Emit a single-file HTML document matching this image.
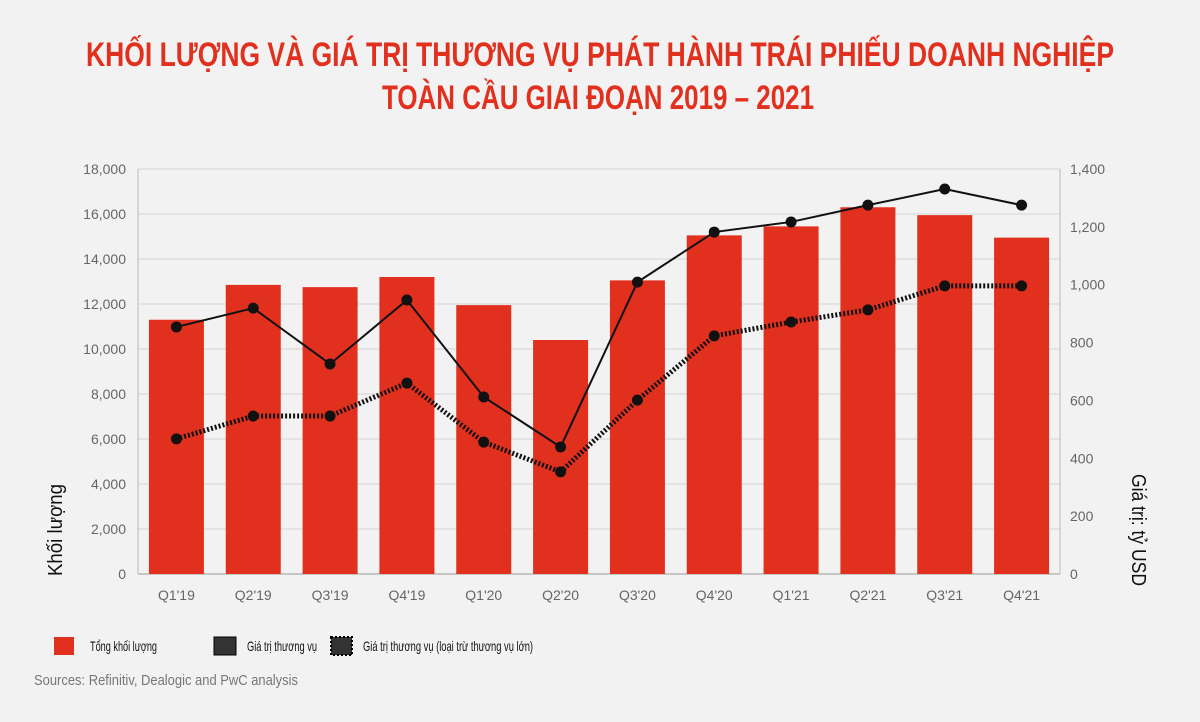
<!DOCTYPE html>
<html><head><meta charset="utf-8"><style>
html,body{margin:0;padding:0;background:#f2f2f2}
svg{display:block}
text{font-family:"Liberation Sans",sans-serif}
</style></head><body>
<svg id="chart" width="1200" height="722" viewBox="0 0 1200 722" xmlns="http://www.w3.org/2000/svg">
<rect width="1200" height="722" fill="#f2f2f2"/>
<g fill="#e2301f" font-weight="bold" font-size="34" text-anchor="middle">
<text x="600" y="66" textLength="1028" lengthAdjust="spacingAndGlyphs">KHỐI LƯỢNG VÀ GIÁ TRỊ THƯƠNG VỤ PHÁT HÀNH TRÁI PHIẾU DOANH NGHIỆP</text>
<text x="598" y="109" textLength="432" lengthAdjust="spacingAndGlyphs">TOÀN CẦU GIAI ĐOẠN 2019 – 2021</text>
</g>
<g id="grid"></g>
<g id="bars"></g>
<g id="lines"></g>
<g id="axes"></g>
<text x="62" y="530" transform="rotate(-90 62 530)" text-anchor="middle" font-size="20" fill="#111" textLength="92" lengthAdjust="spacingAndGlyphs">Khối lượng</text>
<text x="1132" y="530" transform="rotate(90 1132 530)" text-anchor="middle" font-size="20" fill="#111" textLength="112" lengthAdjust="spacingAndGlyphs">Giá trị: tỷ USD</text>
<g font-size="14" fill="#111">
<g><rect x="54" y="637" width="20" height="18" fill="#e2301f"/><text x="90" y="651" textLength="67" lengthAdjust="spacingAndGlyphs">Tổng khối lượng</text></g>
<g><rect x="214" y="637" width="22" height="18" fill="#333" stroke="#000"/><text x="247" y="651" textLength="70" lengthAdjust="spacingAndGlyphs">Giá trị thương vụ</text></g>
<g><rect x="331" y="637" width="21" height="18" fill="#333" stroke="#000" stroke-width="2" stroke-dasharray="2 2"/><text x="363" y="651" textLength="170" lengthAdjust="spacingAndGlyphs">Giá trị thương vụ (loại trừ thương vụ lớn)</text></g>
</g>
<text x="34" y="685" font-size="15" fill="#777" textLength="264" lengthAdjust="spacingAndGlyphs">Sources: Refinitiv, Dealogic and PwC analysis</text>
</svg>
<script>
const categories=["Q1'19","Q2'19","Q3'19","Q4'19","Q1'20","Q2'20","Q3'20","Q4'20","Q1'21","Q2'21","Q3'21","Q4'21"];
const volume=[11300,12850,12750,13200,11950,10400,13050,15050,15450,16300,15950,14950];
const dealValue=[854,919,726,947,612,439,1009,1182,1217,1275,1331,1275];
const dealValueExcl=[467,546,546,660,456,353,601,823,871,913,996,996];
const leftTicks=[0,2000,4000,6000,8000,10000,12000,14000,16000,18000];
const rightTicks=[0,200,400,600,800,1000,1200,1400];
const NS="http://www.w3.org/2000/svg";
const X0=138,X1=1060,Y0=574,Y1=169;
const band=(X1-X0)/categories.length;
const xc=i=>X0+band*(i+0.5);
const yL=v=>Y0-(v/18000)*(Y0-Y1);
const yR=v=>Y0-(v/1400)*(Y0-Y1);
function mk(tag,attrs,parent){const e=document.createElementNS(NS,tag);for(const k in attrs)e.setAttribute(k,attrs[k]);parent.appendChild(e);return e;}
const grid=document.getElementById('grid'),bars=document.getElementById('bars'),lines=document.getElementById('lines'),axes=document.getElementById('axes');
leftTicks.forEach(t=>{
  const l=mk('line',{x1:X0,x2:X1,y1:yL(t),y2:yL(t),stroke:t===0?'#999':'#d4d4d4','stroke-width':1},grid);
  
  
  const tx=mk('text',{x:126,y:yL(t)+5,'text-anchor':'end','font-size':14,fill:'#666'},axes);
  tx.textContent=t.toLocaleString('en-US');
  
  
});
rightTicks.forEach(t=>{
  const tx=mk('text',{x:1070,y:yR(t)+5,'font-size':14,fill:'#666'},axes);
  tx.textContent=t.toLocaleString('en-US');
  
  
});
mk('line',{x1:X0,x2:X0,y1:Y1,y2:Y0,stroke:'#bbb'},axes);
mk('line',{x1:X1,x2:X1,y1:Y1,y2:Y0,stroke:'#bbb'},axes);
categories.forEach((c,i)=>{
  const r=mk('rect',{x:xc(i)-27.5,y:yL(volume[i]),width:55,height:Y0-yL(volume[i]),fill:'#e2301f'},bars);
  
  
  const tx=mk('text',{x:xc(i),y:600,'text-anchor':'middle','font-size':14,fill:'#666'},axes);
  tx.textContent=c;
  
  
});
function series(vals,name,dash,w){
  const p=mk('polyline',{points:vals.map((v,i)=>xc(i)+','+yR(v)).join(' '),fill:'none',stroke:'#111','stroke-width':w},lines);
  if(dash)p.setAttribute('stroke-dasharray',dash);
  
  
  vals.forEach((v,i)=>{
    const d=mk('circle',{cx:xc(i),cy:yR(v),r:5.5,fill:'#111'},lines);
    
    
  });
}
series(dealValueExcl,'deal-value-excl','2 2',5);
series(dealValue,'deal-value',null,2);
</script>
</body></html>
